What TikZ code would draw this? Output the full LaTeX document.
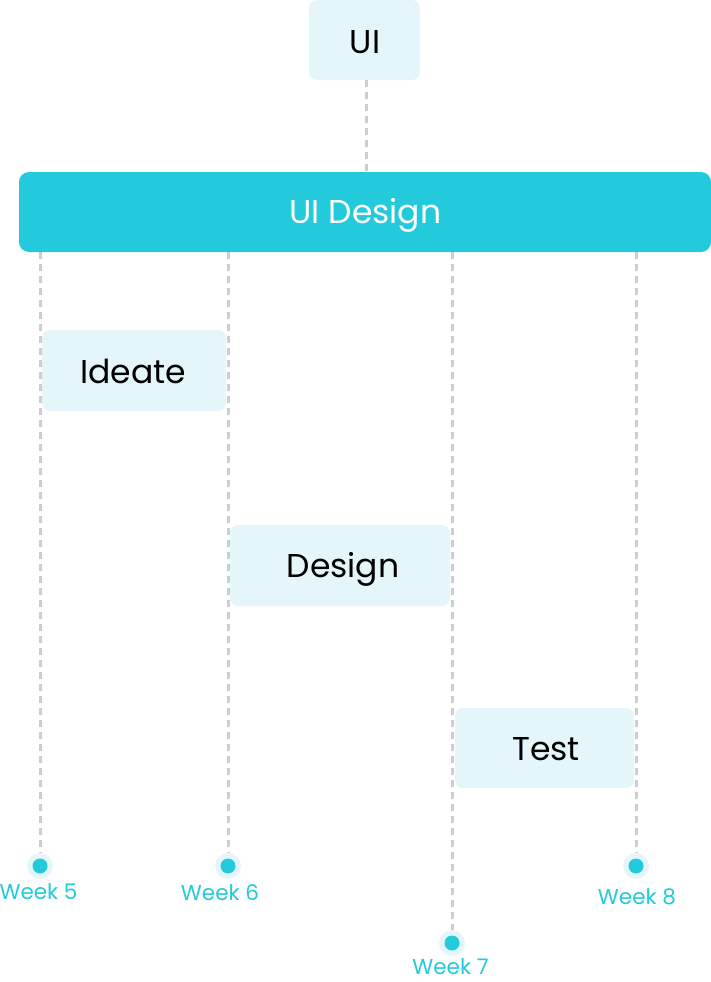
\documentclass[tikz,border=0pt]{standalone}
\usepackage{fontspec}
\setmainfont{Poppins}
\definecolor{teal}{HTML}{22CADC}
\definecolor{paleteal}{HTML}{E4F6F9}
\definecolor{guide}{HTML}{CDCDCD}
\tikzset{
  x=1pt, y=-1pt,
  taskbox/.style={fill=paleteal, rounded corners=8pt},
  tasktext/.style={font=\fontsize{33}{33}\selectfont, text=black, anchor=base, inner sep=0pt},
  guideline/.style={draw=guide, line width=3pt, dash pattern=on 7pt off 5pt},
  weekdot/.style={circle, fill=teal, minimum size=15pt, inner sep=0pt},
  weekhalo/.style={circle, fill=paleteal, minimum size=26pt, inner sep=0pt},
  weeklabel/.style={font=\fontsize{21.5}{21.5}\selectfont, text=teal, anchor=base, inner sep=0pt},
}
\begin{document}
\begin{tikzpicture}
\useasboundingbox (0,0) rectangle (711,982);
\fill[white] (0,0) rectangle (711,982);

% week markers: pale halo with a solid dot on top
\foreach \n/\x/\y in {w5/40/866, w6/228/866, w7/452/943, w8/636/866}{
  \node[weekhalo] (\n) at (\x,\y) {};
  \node[weekdot] at (\x,\y) {};
}

% points on the bar's lower edge where the guide lines start
\coordinate (g5) at (40,252);
\coordinate (g6) at (228,252);
\coordinate (g7) at (452,252);
\coordinate (g8) at (636,252);
\coordinate (uibot) at (366,80);
\coordinate (bartop) at (366,172);

% dashed guide lines
\draw[guideline] (g5) -- (w5.north);
\draw[guideline] (g6) -- (w6.north);
\draw[guideline] (g7) -- (w7.north);
\draw[guideline] (g8) -- (w8.north);
\draw[guideline] (uibot) -- (bartop);

% top node
\fill[taskbox] (309,0) rectangle (420,80);
\node[tasktext] (ui) at (365,54) {UI};

% phase bar
\fill[fill=teal, rounded corners=10pt] (19,172) rectangle (711,252);
\node[tasktext, text=white] (bar) at (365.5,223) {UI Design};

% task boxes
\fill[taskbox] (42,330) rectangle (226,411);
\node[tasktext] (ideate) at (133,383) {Ideate};
\fill[taskbox] (230,525) rectangle (450,606);
\node[tasktext] (design) at (343,577) {Design};
\fill[taskbox] (455,708) rectangle (634,788);
\node[tasktext] (test) at (546,760) {Test};

% week labels
\node[weeklabel] (l5) at (38.5,899) {Week 5};
\node[weeklabel] (l6) at (220,900) {Week 6};
\node[weeklabel] (l7) at (450.5,974) {Week 7};
\node[weeklabel] (l8) at (637,904) {Week 8};
\end{tikzpicture}
\end{document}
